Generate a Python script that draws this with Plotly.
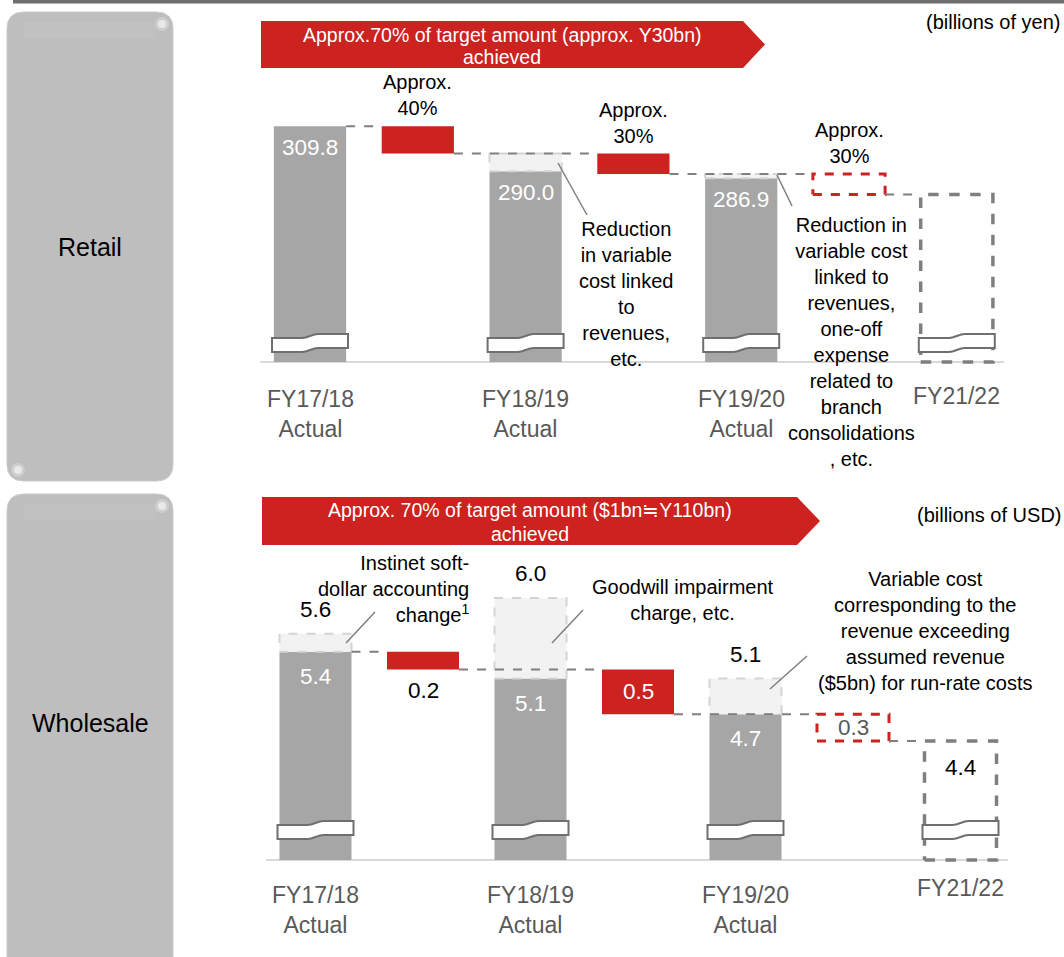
import plotly.graph_objects as go

W, H = 1064, 957
FONT = "Arial, 'Liberation Sans', Helvetica, sans-serif"
RED = "#CC2220"
DARK = "#A6A6A6"
LIGHT = "#F2F2F2"
LIGHT_EDGE = "#D4D4D4"
LINE_GREY = "#7F7F7F"
LABEL_GREY = "#595959"
BOX_GREY = "#BEBEBE"

# ---- data -------------------------------------------------------------
period_labels = ["FY17/18<br>Actual", "FY18/19<br>Actual", "FY19/20<br>Actual", "FY21/22"]

# Retail, billions of yen
retail_actual = [309.8, 290.0, 286.9]          # FY17/18, FY18/19, FY19/20 actual costs
retail_reduction = [12.0, 9.0, 9.0]             # approx. 40% / 30% / 30% of the ~Y30bn target
retail_step_text = ["Approx.<br>40%", "Approx.<br>30%", "Approx.<br>30%"]

# Wholesale, billions of USD
wholesale_actual = [5.4, 5.1, 4.7]
wholesale_gross = [5.6, 6.0, 5.1]               # before one-off items / excess variable cost
wholesale_reduction = [0.2, 0.5, 0.3]

BAR_W = 0.67
ACTUAL_X = [0, 2, 4]
STEP_X = [1, 3, 5]
TARGET_X = 6


def px_x(x):
    return x / W


def px_y(y):
    return 1 - y / H


def waterfall_levels(start, steps):
    levels = [start]
    for s in steps:
        levels.append(round(levels[-1] - s, 4))
    return levels


fig = go.Figure()
shapes = []
annotations = []


def box_trace(xa, ya, xc, lo, hi, fill, edge, width):
    x0, x1 = xc - BAR_W / 2, xc + BAR_W / 2
    fig.add_trace(go.Scatter(
        x=[x0, x1, x1, x0, x0], y=[lo, lo, hi, hi, lo],
        mode="lines", fill="toself", fillcolor=fill,
        line=dict(color=edge, width=width, dash="dash"),
        xaxis=xa, yaxis=ya, hoverinfo="skip", showlegend=False))


def draw_waterfall(xa, ya, actual, gross, steps, floor, scale, break_lift):
    levels = waterfall_levels(actual[0], steps)
    # actual cost bars, truncated at the axis floor
    fig.add_trace(go.Bar(
        x=ACTUAL_X, y=[v - floor for v in actual], base=[floor] * len(actual),
        width=BAR_W, marker=dict(color=DARK, line=dict(width=0)),
        xaxis=xa, yaxis=ya, hoverinfo="skip", showlegend=False))
    # reductions achieved so far
    fig.add_trace(go.Bar(
        x=STEP_X[:2], y=steps[:2], base=levels[1:3],
        width=BAR_W, marker=dict(color=RED, line=dict(width=0)),
        xaxis=xa, yaxis=ya, hoverinfo="skip", showlegend=False))
    # one-off items on top of the actual bars
    for xc, a, g in zip(ACTUAL_X, actual, gross):
        if g > a + 1e-9:
            box_trace(xa, ya, xc, a, g, LIGHT, LIGHT_EDGE, 2)
    # remaining reduction (plan)
    box_trace(xa, ya, STEP_X[2], levels[3], levels[2], "white", RED, 3)
    # FY21/22 target
    box_trace(xa, ya, TARGET_X, floor, levels[3], "rgba(0,0,0,0)", LINE_GREY, 3.5)

    # connectors between steps
    links = [(0, 1, levels[0]), (1, 3, levels[1]), (3, 5, levels[2]), (5, 6, levels[3])]
    for a, b, lvl in links:
        shapes.append(dict(type="line", xref=xa, yref=ya,
                           x0=a + BAR_W / 2, x1=b - BAR_W / 2, y0=lvl, y1=lvl,
                           line=dict(color=LINE_GREY, width=2, dash="dash"), layer="above"))
    # baseline
    shapes.append(dict(type="line", xref=xa, yref=ya, x0=-0.46, x1=6.44, y0=floor, y1=floor,
                       line=dict(color="#D9D9D9", width=2), layer="below"))
    # axis-break marks
    wave = ("M -38,-9 L -8,-9 C -2,-9 2,-5 8,-5 L 38,-5 L 38,9 L 8,9 "
            "C 2,9 -2,5 -8,5 L -38,5 Z")
    for xc in ACTUAL_X + [TARGET_X]:
        shapes.append(dict(type="path", xref=xa, yref=ya,
                           xsizemode="pixel", xanchor=xc,
                           ysizemode="pixel", yanchor=floor + break_lift / scale,
                           path=wave, fillcolor="white",
                           line=dict(color="#6F6F6F", width=2), layer="above"))
    return levels


def add_axes(name_x, name_y, x0_px, unit_px, base_px, top_px, floor, scale):
    pad = 4
    fig.update_layout({
        name_x: dict(domain=[px_x(x0_px), px_x(x0_px + 7 * unit_px)], range=[-0.5, 6.5],
                     visible=False, fixedrange=True,
                     anchor=name_y.replace("axis", "")),
        name_y: dict(domain=[px_y(base_px + pad), px_y(top_px)],
                     range=[floor - pad / scale, floor + (base_px - top_px) / scale],
                     visible=False, fixedrange=True,
                     anchor=name_x.replace("axis", "")),
    })


def text(x, y, s, size=20, color="black", xref="paper", yref="paper",
         xanchor="center", yanchor="middle", align="center", yshift=0):
    annotations.append(dict(x=x, y=y, xref=xref, yref=yref, text=s, showarrow=False,
                            xanchor=xanchor, yanchor=yanchor, align=align, yshift=yshift,
                            font=dict(family=FONT, size=size, color=color)))


# ---- decorations: top rule, side tabs, banners -------------------------
shapes.append(dict(type="rect", xref="paper", yref="paper",
                   x0=px_x(13), x1=1, y0=px_y(3.5), y1=px_y(0),
                   fillcolor="#6E6E6E", line=dict(width=0), layer="below"))


def rounded_rect(x0, y0, x1, y1, r):
    p = f"M {px_x(x0 + r)},{px_y(y0)} L {px_x(x1 - r)},{px_y(y0)} "
    p += f"Q {px_x(x1)},{px_y(y0)} {px_x(x1)},{px_y(y0 + r)} "
    p += f"L {px_x(x1)},{px_y(y1 - r)} Q {px_x(x1)},{px_y(y1)} {px_x(x1 - r)},{px_y(y1)} "
    p += f"L {px_x(x0 + r)},{px_y(y1)} Q {px_x(x0)},{px_y(y1)} {px_x(x0)},{px_y(y1 - r)} "
    p += f"L {px_x(x0)},{px_y(y0 + r)} Q {px_x(x0)},{px_y(y0)} {px_x(x0 + r)},{px_y(y0)} Z"
    return p


for (y0, y1) in [(12, 481), (494, 975)]:
    shapes.append(dict(type="path", xref="paper", yref="paper", path=rounded_rect(7, y0, 173, y1, 17),
                       fillcolor=BOX_GREY, line=dict(color="#C9C9C9", width=1), layer="below"))
    # faint gloss band along the top edge
    shapes.append(dict(type="rect", xref="paper", yref="paper",
                       x0=px_x(24), x1=px_x(156), y0=px_y(y0 + 26), y1=px_y(y0 + 10),
                       fillcolor="#C1C1C1", line=dict(width=0), layer="below"))
    for rad, alpha in [(7, 0.25), (4, 0.55)]:
        shapes.append(dict(type="circle", xref="paper", yref="paper",
                           x0=px_x(162 - rad), x1=px_x(162 + rad),
                           y0=px_y(y0 + 12 + rad), y1=px_y(y0 + 12 - rad),
                           fillcolor=f"rgba(255,255,255,{alpha})", line=dict(width=0), layer="below"))
for rad, alpha in [(7, 0.25), (4, 0.55)]:
    shapes.append(dict(type="circle", xref="paper", yref="paper",
                       x0=px_x(18 - rad), x1=px_x(18 + rad), y0=px_y(470 + rad), y1=px_y(470 - rad),
                       fillcolor=f"rgba(255,255,255,{alpha})", line=dict(width=0), layer="below"))

text(px_x(90), px_y(247), "Retail", size=25)
text(px_x(90), px_y(723), "Wholesale", size=25)


def banner(x0, x1, tip, y0, y1):
    ym = (y0 + y1) / 2
    path = (f"M {px_x(x0)},{px_y(y0)} L {px_x(x1)},{px_y(y0)} L {px_x(tip)},{px_y(ym)} "
            f"L {px_x(x1)},{px_y(y1)} L {px_x(x0)},{px_y(y1)} Z")
    shapes.append(dict(type="path", xref="paper", yref="paper", path=path,
                       fillcolor=RED, line=dict(width=0), layer="below"))


banner(261, 743, 765, 21, 68)
text(px_x(502), px_y(35), "Approx.70% of target amount (approx. Y30bn)", size=19.5, color="white")
text(px_x(502), px_y(57), "achieved", size=19.5, color="white")

banner(262, 797, 820, 497, 545)
text(px_x(529.5), px_y(510), "Approx. 70% of target amount ($1bn≒Y110bn)", size=19.5, color="white")
text(px_x(529.5), px_y(534), "achieved", size=19.5, color="white")

text(px_x(1063), px_y(22), "(billions of yen)", xanchor="right")
text(px_x(1063), px_y(515), "(billions of USD)", xanchor="right")

# ---- Retail panel -------------------------------------------------------
R_FLOOR, R_SCALE = 206.0, 2.27
add_axes("xaxis", "yaxis", 256.1, 107.8, 362, 15, R_FLOOR, R_SCALE)
r_levels = waterfall_levels(retail_actual[0], retail_reduction)
r_gross = [max(a, lvl) for a, lvl in zip(retail_actual, r_levels)]
draw_waterfall("x", "y", retail_actual, r_gross, retail_reduction, R_FLOOR, R_SCALE, 19)

for xc, v in zip(ACTUAL_X, retail_actual):
    text(xc, v, f"{v:.1f}", size=22.5, color="white", xref="x", yref="y", yanchor="top", yshift=-7)
for k, s in enumerate(retail_step_text):
    text(STEP_X[k], r_levels[k], s, size=20, xref="x", yref="y", yanchor="bottom", yshift=5)

text(px_x(626), px_y(294), "Reduction<br>in variable<br>cost linked<br>to<br>revenues,<br>etc.")
text(px_x(851), px_y(342),
     "Reduction in<br>variable cost<br>linked to<br>revenues,<br>one-off<br>expense<br>"
     "related to<br>branch<br>consolidations<br>, etc.")
for (a, b) in [((558, 163), (587, 215)), ((777, 175), (792, 206))]:
    shapes.append(dict(type="line", xref="paper", yref="paper",
                       x0=px_x(a[0]), y0=px_y(a[1]), x1=px_x(b[0]), y1=px_y(b[1]),
                       line=dict(color=LINE_GREY, width=1.5)))

for xc, lab in zip(ACTUAL_X + [TARGET_X], period_labels):
    text(xc, px_y(414 if "<br>" in lab else 396), lab, size=23, color=LABEL_GREY, xref="x")

# ---- Wholesale panel ----------------------------------------------------
WS_FLOOR, WS_SCALE = 3.07, 89.4
add_axes("xaxis2", "yaxis2", 261.75, 107.5, 860, 500, WS_FLOOR, WS_SCALE)
w_levels = draw_waterfall("x2", "y2", wholesale_actual, wholesale_gross, wholesale_reduction,
                          WS_FLOOR, WS_SCALE, 30)

for xc, v in zip(ACTUAL_X, wholesale_actual):
    text(xc, v, f"{v:.1f}", size=22.5, color="white", xref="x2", yref="y2", yanchor="top", yshift=-10)
for xc, g in zip(ACTUAL_X, wholesale_gross):
    text(xc, g, f"{g:.1f}", size=22.5, xref="x2", yref="y2", yanchor="bottom", yshift=10)
# step values: below, inside, inside the dashed plan box
text(STEP_X[0], w_levels[1], f"{wholesale_reduction[0]:.1f}", size=22.5, xref="x2", yref="y2",
     yanchor="top", yshift=-6)
text(STEP_X[1], (w_levels[1] + w_levels[2]) / 2, f"{wholesale_reduction[1]:.1f}", size=22.5,
     color="white", xref="x2", yref="y2")
text(STEP_X[2], (w_levels[2] + w_levels[3]) / 2, f"{wholesale_reduction[2]:.1f}", size=22.5,
     color=LABEL_GREY, xref="x2", yref="y2")
text(TARGET_X, w_levels[3], f"{w_levels[3]:.1f}", size=22.5, xref="x2", yref="y2",
     yanchor="top", yshift=-12)

text(px_x(471), px_y(589), "Instinet soft-<br>dollar accounting<br>change<sup>1</sup>",
     xanchor="right", align="right")
text(px_x(683), px_y(600), "Goodwill impairment<br>charge, etc.")
text(px_x(925), px_y(631),
     "Variable cost<br>corresponding to the<br>revenue exceeding<br>assumed revenue<br>"
     "($5bn) for run-rate costs")
for (a, b) in [((346, 643), (375, 612)), ((552, 643), (583, 610)), ((770, 689), (807, 656))]:
    shapes.append(dict(type="line", xref="paper", yref="paper",
                       x0=px_x(a[0]), y0=px_y(a[1]), x1=px_x(b[0]), y1=px_y(b[1]),
                       line=dict(color=LINE_GREY, width=1.5)))

for xc, lab in zip(ACTUAL_X + [TARGET_X], period_labels):
    text(xc, px_y(909.5 if "<br>" in lab else 888), lab, size=23, color=LABEL_GREY, xref="x2")

fig.update_layout(
    width=W, height=H, margin=dict(l=0, r=0, t=0, b=0),
    paper_bgcolor="white", plot_bgcolor="rgba(0,0,0,0)",
    barmode="overlay", showlegend=False,
    shapes=shapes, annotations=annotations,
    font=dict(family=FONT),
)

fig.write_html("out.html")
